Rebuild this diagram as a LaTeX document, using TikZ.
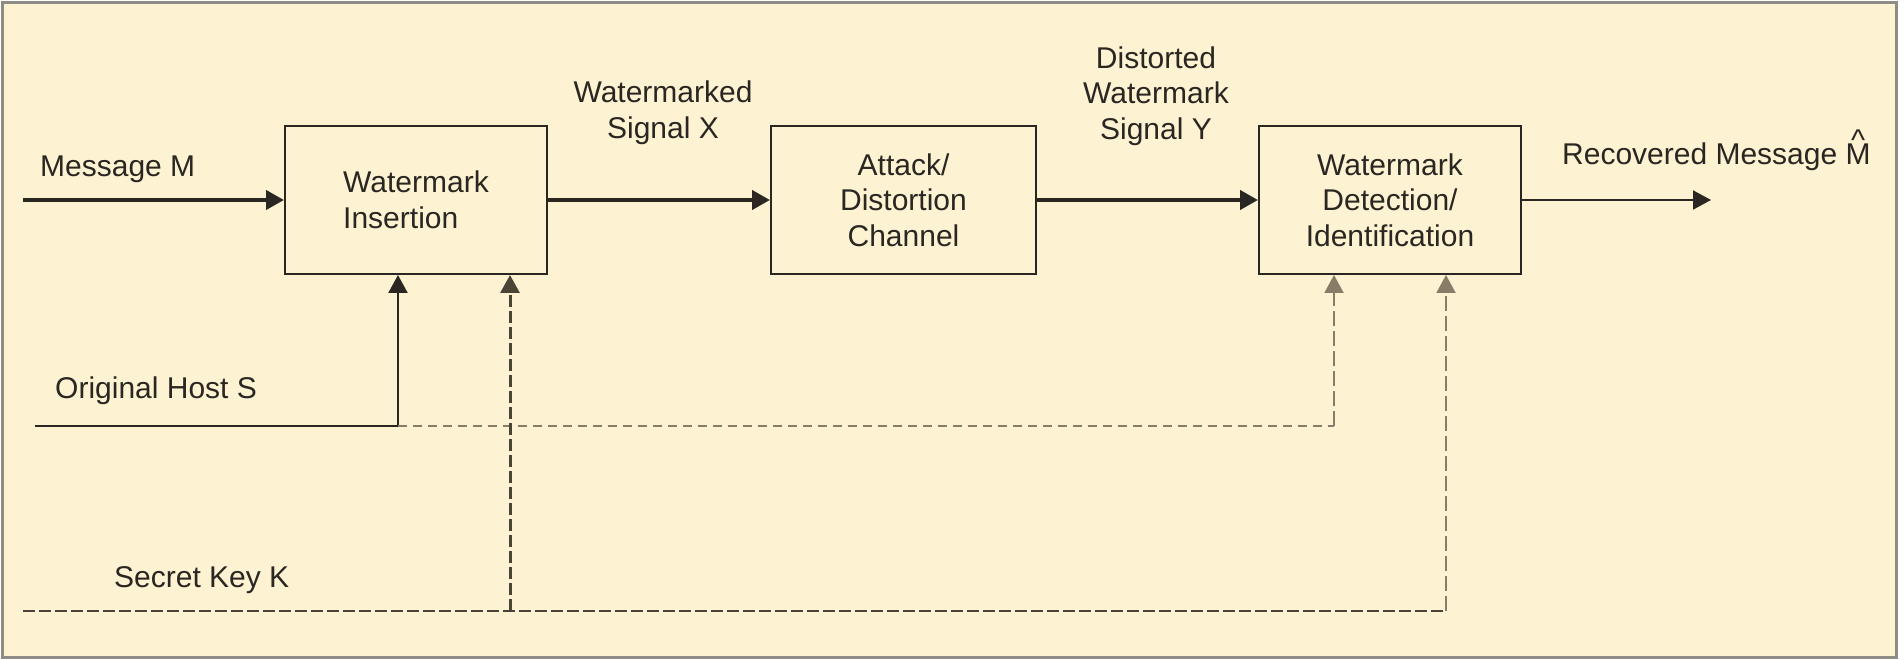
\documentclass[tikz,border=0pt]{standalone}
\usepackage{fontspec}
\setmainfont{Liberation Sans}
\usetikzlibrary{arrows.meta}
\definecolor{cream}{HTML}{FDF2D1}
\definecolor{framecol}{HTML}{8E8C84}
\definecolor{ink}{HTML}{2A2723}
\definecolor{keyink}{HTML}{4A4436}
\definecolor{lightdash}{HTML}{867C68}
\newcommand\hatM{\leavevmode\vbox{\offinterlineskip\halign{\hfil##\hfil\cr\char"5E\cr\noalign{\kern-6.6pt}M\cr}}}
\begin{document}
\begin{tikzpicture}[x=1pt,y=-1pt,
  every node/.style={font=\fontsize{30}{35.5}\selectfont, text=ink, inner sep=0pt},
  blk/.style={draw=ink, line width=2pt, fill=cream, minimum width=262pt, minimum height=148pt, inner sep=0pt},
  tip/.style={-{Triangle[length=18pt,width=19pt]}},
  thickarr/.style={draw=ink, line width=4pt, tip},
  thinarr/.style={draw=ink, line width=2pt, tip},
  solidline/.style={draw=ink, line width=2.2pt},
  hostdash/.style={draw=lightdash, line width=2.4pt, dash pattern=on 9pt off 6pt},
  keydash/.style={draw=keyink, line width=2.5pt, dash pattern=on 12pt off 4pt},
  detdash/.style={draw=lightdash, line width=2pt, dash pattern=on 15pt off 5pt}
]
\useasboundingbox (0,0) rectangle (1904,660);
\fill[white] (0,0) rectangle (1904,660);
\draw[framecol, line width=3pt, fill=cream] (2,3) rectangle (1896,657);

% blocks
\node[blk, align=left] (ins) at (416,200) {Watermark\\Insertion};
\node[blk, align=center, minimum width=265pt] (att) at (903.5,200) {Attack/\\Distortion\\Channel};
\node[blk, align=center] (det) at (1390,200) {Watermark\\Detection/\\Identification};

% labels
\node[anchor=base west] (lm) at (40,177) {Message M};
\node[align=center] (lx) at (663,112.5) {Watermarked\\Signal X};
\node[align=center] (ly) at (1156,96) {Distorted\\Watermark\\Signal Y};
\node[anchor=base west] (lr) at (1562,165) {Recovered Message \hatM};
\node[anchor=base west] (ls) at (55,399) {Original Host S};
\node[anchor=base west] (lk) at (114,587) {Secret Key K};

% coordinates
\coordinate (mstart) at (23,200);
\coordinate (outend) at (1711,200);
\coordinate (hoststart) at (35,426);
\coordinate (hostcorner) at (398,426);
\coordinate (hostturn) at (1334,426);
\coordinate (keystart) at (23,611);
\coordinate (keyA) at (510,611);
\coordinate (keyturn) at (1446,611);

% main chain
\draw[thickarr] (mstart) -- (ins.west |- mstart);
\draw[thickarr] (ins.east |- mstart) -- (att.west |- mstart);
\draw[thickarr] (att.east |- mstart) -- (det.west |- mstart);
\draw[thinarr] (det.east |- mstart) -- (outend);

% host
\draw[solidline] (hoststart) -- (hostcorner);
\draw[solidline, tip] (hostcorner) -- (hostcorner |- ins.south);
\draw[hostdash] (hostcorner) -- (hostturn);
\draw[detdash, tip] (hostturn) -- (hostturn |- det.south);

% key
\draw[keydash] (keystart) -- (keyturn);
\draw[keydash, line width=3pt, tip] (keyA) -- (keyA |- ins.south);
\draw[detdash, tip] (keyturn) -- (keyturn |- det.south);
\end{tikzpicture}
\end{document}
